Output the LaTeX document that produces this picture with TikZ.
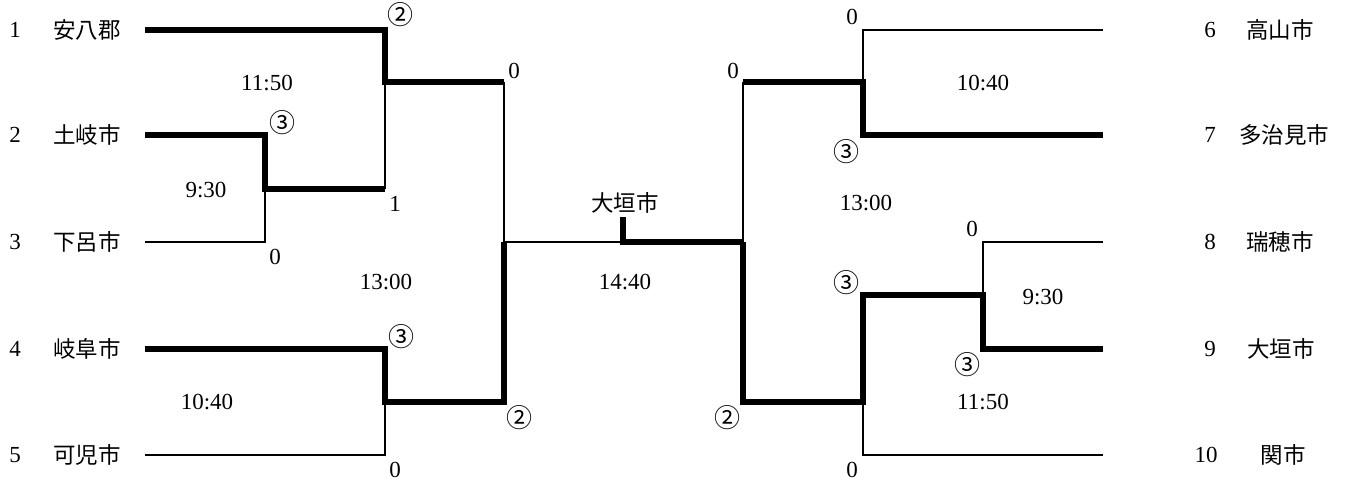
\documentclass[tikz,border=0pt]{standalone}
\usepackage{fontspec}
\setmainfont{Liberation Serif}
\newfontfamily\jp{Noto Sans CJK JP}
\begin{document}
\begin{tikzpicture}[x=1pt,y=-1pt,
  lose/.style={line width=2.6pt},
  win/.style={line width=5.5pt,line join=miter},
  lbl/.style={inner sep=0pt,font=\fontsize{23}{26}\selectfont},
  jl/.style={inner sep=0pt,font=\fontsize{22.5}{26}\selectfont\jp},
  cl/.style={inner sep=0pt,font=\fontsize{26}{28}\selectfont\jp},
  ]
\useasboundingbox (0,0) rectangle (1351,481);
% team labels left
\node[lbl] (n1) at (15,30) {1};
\node[jl] (s1) at (87,30) {安八郡};
\node[lbl] (n2) at (15,135) {2};
\node[jl] (s2) at (87,135) {土岐市};
\node[lbl] (n3) at (15,242) {3};
\node[jl] (s3) at (87,242) {下呂市};
\node[lbl] (n4) at (15,349) {4};
\node[jl] (s4) at (87,349) {岐阜市};
\node[lbl] (n5) at (15,455) {5};
\node[jl] (s5) at (87,455) {可児市};
% team labels right
\node[lbl] (n6) at (1210,30) {6};
\node[jl] (s6) at (1280,30) {高山市};
\node[lbl] (n7) at (1210,135) {7};
\node[jl] (s7) at (1284,135) {多治見市};
\node[lbl] (n8) at (1210,242) {8};
\node[jl] (s8) at (1280,242) {瑞穂市};
\node[lbl] (n9) at (1210,349) {9};
\node[jl] (s9) at (1281,349) {大垣市};
\node[lbl] (n10) at (1206,455) {10};
\node[jl] (s10) at (1283,455) {関市};
% line starts
\coordinate (t1) at (145,30);
\coordinate (t2) at (145,135);
\coordinate (t3) at (145,242);
\coordinate (t4) at (145,349);
\coordinate (t5) at (145,455);
\coordinate (t6) at (1103,30);
\coordinate (t7) at (1103,135);
\coordinate (t8) at (1103,242);
\coordinate (t9) at (1103,349);
\coordinate (t10) at (1103,455);
% junctions
\coordinate (a) at (265,189);
\coordinate (b) at (385,82);
\coordinate (c) at (385,402);
\coordinate (dT) at (504,82);
\coordinate (dB) at (504,402);
\coordinate (d) at (504,242);
\coordinate (fin) at (623,242);
\coordinate (champ) at (623,217);
\coordinate (e) at (743,242);
\coordinate (eT) at (743,82);
\coordinate (eB) at (743,402);
\coordinate (f) at (863,82);
\coordinate (g) at (983,295);
\coordinate (gL) at (863,295);
\coordinate (h) at (863,402);
% left side
\draw[win] (t1) -| (b) -- (dT);
\draw[win] (t2) -| (a) -- (385,189);
\draw[lose] (t3) -| (a);
\draw[lose] (385,189) -- (b);
\draw[win] (t4) -| (c) -- (dB) -- (d);
\draw[lose] (t5) -| (c);
\draw[lose] (dT) -- (d) -- (fin);
% final
\draw[win] (champ) -- (fin) -- (e);
% right side
\draw[lose] (t6) -| (f);
\draw[win] (t7) -| (f) -- (eT);
\draw[lose] (eT) -- (e);
\draw[lose] (t8) -| (g);
\draw[win] (t9) -| (g) -- (gL) -- (h) -- (eB) -- (e);
\draw[lose] (t10) -| (h);
% scores and times
\node[cl] (c1) at (400,15) {②};
\node[cl] (c2) at (282,123) {③};
\node[lbl] (m1) at (267,83) {11:50};
\node[lbl] (m2) at (206,190) {9:30};
\node[lbl] (sc1) at (395,204) {1};
\node[lbl] (sc2) at (275,257) {0};
\node[lbl] (m3) at (386,282) {13:00};
\node[cl] (c3) at (401,337) {③};
\node[lbl] (m4) at (207,402) {10:40};
\node[lbl] (sc3) at (395,470) {0};
\node[lbl] (sc4) at (514,71) {0};
\node[jl] (w) at (625,203) {大垣市};
\node[lbl] (m5) at (625,282) {14:40};
\node[lbl] (sc5) at (733,71) {0};
\node[cl] (c4) at (519,418) {②};
\node[cl] (c5) at (727,418) {②};
\node[lbl] (sc6) at (852,17) {0};
\node[cl] (c6) at (846,152) {③};
\node[lbl] (m6) at (983,83) {10:40};
\node[lbl] (m7) at (866,203) {13:00};
\node[lbl] (sc7) at (972,229) {0};
\node[lbl] (m8) at (1043,297) {9:30};
\node[cl] (c7) at (967,365) {③};
\node[cl] (c8) at (846,283) {③};
\node[lbl] (m9) at (983,402) {11:50};
\node[lbl] (sc8) at (852,470) {0};
\end{tikzpicture}
\end{document}
